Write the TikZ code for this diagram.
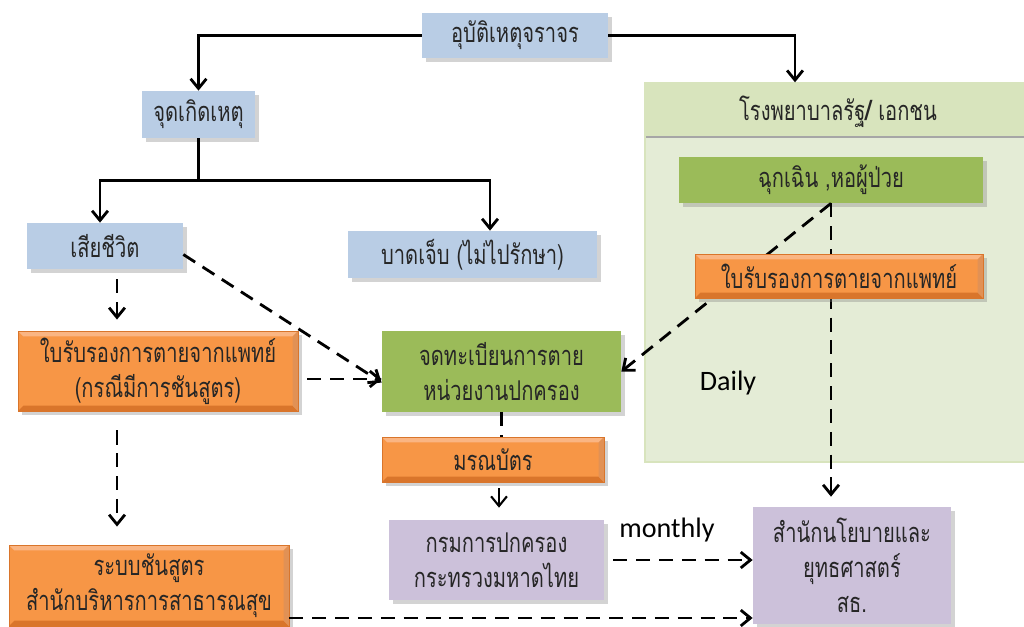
\documentclass[tikz,border=0pt]{standalone}
\usepackage{fontspec}
\setmainfont{Carlito}
\newfontfamily\thai[Script=Thai, FakeStretch=0.74]{Loma}
\usetikzlibrary{arrows.meta,shadows}

\definecolor{boxblue}{HTML}{B9CDE5}
\definecolor{boxgreen}{HTML}{9BBB59}
\definecolor{boxorange}{HTML}{F79646}
\definecolor{orangelite}{HTML}{FAB583}
\definecolor{orangedark}{HTML}{D9752B}
\definecolor{boxpurple}{HTML}{CCC1DA}
\definecolor{hospfill}{HTML}{E4ECD6}
\definecolor{hosphead}{HTML}{D8E4BD}
\definecolor{inktext}{HTML}{262626}

\tikzset{
  size/.style 2 args={minimum width=#1*0.02cm, minimum height=#2*0.02cm},
  thaitxt/.style={font=\thai\fontsize{15.5}{20}\selectfont, text=inktext, align=center, inner sep=0pt},
  card/.style={thaitxt, drop shadow={opacity=0.35, shadow xshift=2pt, shadow yshift=-2pt}},
  bluebox/.style={card, fill=boxblue},
  greenbox/.style={card, fill=boxgreen},
  purplebox/.style={card, fill=boxpurple},
  orangebox/.style={card, fill=boxorange, draw=orangedark, line width=0.5pt,
    path picture={
      \fill[orangelite] (path picture bounding box.north west) -- (path picture bounding box.north east)
        -- ([xshift=-3pt,yshift=-3pt]path picture bounding box.north east)
        -- ([xshift=3pt,yshift=-3pt]path picture bounding box.north west) -- cycle;
      \fill[orangedark] (path picture bounding box.south west) -- (path picture bounding box.south east)
        -- ([xshift=-3pt,yshift=3pt]path picture bounding box.south east)
        -- ([xshift=3pt,yshift=3pt]path picture bounding box.south west) -- cycle;
      \fill[orangedark!80] (path picture bounding box.north east) -- (path picture bounding box.south east)
        -- ([xshift=-3pt,yshift=3pt]path picture bounding box.south east)
        -- ([xshift=-3pt,yshift=-3pt]path picture bounding box.north east) -- cycle;
    }},
  engtxt/.style={font=\fontsize{16}{18}\selectfont, text=black, inner sep=0pt},
  flow/.style={line width=1.6pt, -{Straight Barb[length=5.5pt,width=9pt]}},
  dflow/.style={flow, dash pattern=on 8pt off 5pt},
  dline/.style={line width=1.6pt, dash pattern=on 8pt off 5pt}
}

\begin{document}
\begin{tikzpicture}[x=0.02cm, y=-0.02cm]
  \useasboundingbox (0,0) rectangle (1024,626);

  % hospital frame
  \node[fill=hospfill, draw=hosphead, line width=0.8pt, size={385}{379}] (hosp) at (837.5,272.5) {};
  \fill[hosphead] (646,84) rectangle (1030,136);
  \draw[black!35, line width=1.2pt] (646,137) -- (1030,137);
  \node[thaitxt] (hosptitle) at (838,112) {โรงพยาบาลรัฐ{\fontsize{16}{18}\selectfont\bfseries/} เอกชน};
  \node[engtxt] (daily) at (728,383) {Daily};
  \node[engtxt] (monthly) at (667,530) {monthly};

  % boxes
  \node[bluebox, size={186}{45}] (acc) at (515,35.5) {อุบัติเหตุจราจร};
  \node[bluebox, size={113}{47}] (site) at (198.5,114.5) {จุดเกิดเหตุ};
  \node[bluebox, size={156}{46}] (dead) at (105,246) {เสียชีวิต};
  \node[bluebox, size={249}{47}] (hurt) at (472.5,254.5) {บาดเจ็บ (ไม่ไปรักษา)};
  \node[greenbox, size={304}{46}] (er) at (831,180) {ฉุกเฉิน ,หอผู้ป่วย};
  \node[orangebox, size={280}{80}] (cert) at (158,371) {ใบรับรองการตายจากแพทย์\\(กรณีมีการชันสูตร)};
  \node[greenbox, size={239}{81}] (reg) at (501.5,371.5) {จดทะเบียนการตาย\\หน่วยงานปกครอง};
  \node[orangebox, size={222}{45}] (mor) at (493,459.5) {มรณบัตร};
  \node[purplebox, size={215}{80}] (dopa) at (496.5,560) {กรมการปกครอง\\กระทรวงมหาดไทย};
  \node[orangebox, size={280}{81}] (autopsy) at (149,585.5) {ระบบชันสูตร\\สำนักบริหารการสาธารณสุข};
  \node[purplebox, size={198}{117}] (moph) at (852,565.5) {สำนักนโยบายและ\\ยุทธศาสตร์\\สธ.};

  % solid tree
  \draw[flow] (acc.west) -| (site.north);
  \draw[flow] (acc.east) -| ([xshift=-0.85cm]hosp.north);
  \draw[line width=1.6pt] (site.south) -- ++(0,42) coordinate (fork);
  \draw[flow] (fork) -| ([xshift=-0.1cm]dead.north);
  \draw[flow] (fork) -| ([xshift=0.35cm]hurt.north);

  % dashed flows
  \draw[dflow] ([yshift=-0.17cm]dead.east) -- ([yshift=-0.22cm]reg.west);
  \draw[dflow, shorten <=0.2cm, shorten >=0.22cm] ([xshift=0.24cm]dead.south) -- ([xshift=0.24cm]dead.south |- cert.north);
  \draw[dflow, shorten <=0.18cm] ([yshift=-0.16cm]cert.east) -- ([yshift=-0.16cm]cert.east -| reg.west);
  \draw[dflow, shorten <=0.38cm, shorten >=0.36cm] ([xshift=-0.82cm]cert.south) -- ([xshift=-0.82cm]cert.south |- autopsy.north);
  \draw[dline] (reg.south) -- (reg.south |- mor.north);
  \draw[flow, line width=1.2pt, shorten <=0.12cm, shorten >=0.24cm] ([xshift=0.12cm]mor.south) -- ([xshift=0.12cm]mor.south |- dopa.north);
  \draw[dflow, shorten <=0.18cm] (dopa.east) -- (dopa.east -| moph.west);
  \draw[dflow] ([yshift=-0.65cm]autopsy.east) -- ([yshift=-0.65cm]autopsy.east -| moph.west);
  \draw[dflow] (er.south) -- (reg.east);
  \draw[dflow, shorten >=0.2cm] (er.south) -- (er.south |- moph.north);

  % drawn over the dashed lines
  \node[orangebox, size={288}{44}] (hcert) at (839,276) {ใบรับรองการตายจากแพทย์};
\end{tikzpicture}
\end{document}
